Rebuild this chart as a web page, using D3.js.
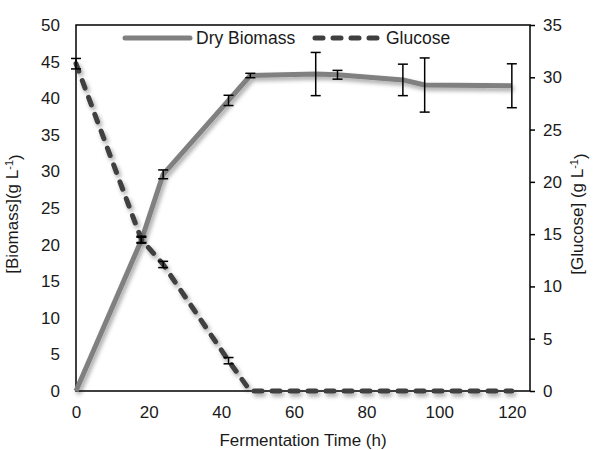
<!DOCTYPE html>
<html>
<head>
<meta charset="utf-8">
<script src="https://cdn.jsdelivr.net/npm/d3@7"></script>
<style>
  body { margin: 0; background: #fff; }
  text { font-family: "Liberation Sans", Arial, sans-serif; fill: #1a1a1a; }
</style>
</head>
<body>
<div id="chart"></div>
<script>
const time = [0, 18, 24, 42, 48, 66, 72, 90, 96, 120];
const biomass = [0, 20.6, 29.6, 39.7, 43.1, 43.3, 43.2, 42.5, 41.8, 41.7];
const biomassErr = [0, 0.4, 0.6, 0.7, 0.3, 2.95, 0.6, 2.15, 3.7, 3.0];
const glucose = [31.3, 14.5, 12.1, 2.9, 0, 0, 0, 0, 0, 0];
const glucoseErr = [0.5, 0.3, 0.3, 0.3, 0, 0, 0, 0, 0, 0];
const xTicks = [0, 20, 40, 60, 80, 100, 120];
const biomassTicks = [0, 5, 10, 15, 20, 25, 30, 35, 40, 45, 50];
const glucoseTicks = [0, 5, 10, 15, 20, 25, 30, 35];

const W = 593, H = 450;
const margin = { top: 25, right: 63, bottom: 59, left: 76 };
const width = W - margin.left - margin.right;
const height = H - margin.top - margin.bottom;

const root = d3.select("#chart").append("svg")
    .attr("width", W)
    .attr("height", H);

// excel style shadow under the lines
const filter = root.append("defs").append("filter")
    .attr("id", "shadow")
    .attr("x", "-10%").attr("y", "-10%")
    .attr("width", "130%").attr("height", "130%");
filter.append("feDropShadow")
    .attr("dx", 2).attr("dy", 3)
    .attr("stdDeviation", 2)
    .attr("flood-color", "#000")
    .attr("flood-opacity", 0.35);

const svg = root.append("g")
    .attr("transform", `translate(${margin.left},${margin.top})`);

const x = d3.scaleLinear().domain([0, 125]).range([0, width]);
const yB = d3.scaleLinear().domain([0, 50]).range([height, 0]);
const yG = d3.scaleLinear().domain([0, 35]).range([height, 0]);

const rows = time.map((t, i) => ({ t, b: biomass[i], be: biomassErr[i], g: glucose[i], ge: glucoseErr[i] }));

// plot frame
svg.append("rect")
    .attr("width", width)
    .attr("height", height)
    .attr("fill", "none")
    .attr("stroke", "#000")
    .attr("stroke-width", 1.5);

// axes
const fs = "17px";
const left = svg.append("g")
    .call(d3.axisLeft(yB).tickValues(biomassTicks).tickSize(0).tickPadding(16));
left.select(".domain").remove();
left.selectAll("text").style("font-size", fs).attr("fill", "#1a1a1a");

const right = svg.append("g")
    .attr("transform", `translate(${width},0)`)
    .call(d3.axisRight(yG).tickValues(glucoseTicks).tickSize(5).tickPadding(8));
right.select(".domain").remove();
right.selectAll("line").attr("stroke", "#000").attr("stroke-width", 1.5);
right.selectAll("text").style("font-size", fs).attr("fill", "#1a1a1a");

const bottom = svg.append("g")
    .attr("transform", `translate(0,${height})`)
    .call(d3.axisBottom(x).tickValues(xTicks).tickSize(0).tickPadding(15));
bottom.select(".domain").remove();
bottom.selectAll("text").style("font-size", fs).attr("fill", "#1a1a1a");

// lines
const lineB = d3.line().x(d => x(d.t)).y(d => yB(d.b));
const lineG = d3.line().x(d => x(d.t)).y(d => yG(d.g));

svg.append("path")
    .datum(rows)
    .attr("d", lineB)
    .attr("fill", "none")
    .attr("stroke", "#808080")
    .attr("stroke-width", 5)
    .attr("stroke-linejoin", "round")
    .attr("filter", "url(#shadow)");

svg.append("path")
    .datum(rows)
    .attr("d", lineG)
    .attr("fill", "none")
    .attr("stroke", "#3f3f3f")
    .attr("stroke-width", 5)
    .attr("stroke-linecap", "round")
    .attr("stroke-dasharray", "8,10")
    .attr("filter", "url(#shadow)");

// error bars
function errorBars(data, yScale, valueKey, errKey) {
    const g = svg.append("g").attr("stroke", "#000").attr("stroke-width", 1.5);
    const withErr = data.filter(d => d[errKey] > 0);
    g.selectAll(".v").data(withErr).join("line")
        .attr("x1", d => x(d.t)).attr("x2", d => x(d.t))
        .attr("y1", d => yScale(d[valueKey] - d[errKey]))
        .attr("y2", d => yScale(d[valueKey] + d[errKey]));
    [-1, 1].forEach(s => {
        g.selectAll(".c" + s).data(withErr).join("line")
            .attr("x1", d => x(d.t) - 5).attr("x2", d => x(d.t) + 5)
            .attr("y1", d => yScale(d[valueKey] + s * d[errKey]))
            .attr("y2", d => yScale(d[valueKey] + s * d[errKey]));
    });
}
errorBars(rows, yB, "b", "be");
errorBars(rows, yG, "g", "ge");

// legend
const legend = svg.append("g").attr("transform", "translate(0,13)");
legend.append("line")
    .attr("x1", 49).attr("x2", 114)
    .attr("stroke", "#808080").attr("stroke-width", 5).attr("stroke-linecap", "round");
legend.append("text")
    .attr("x", 120).attr("y", 0).attr("dy", "0.35em")
    .style("font-size", "17.5px")
    .text("Dry Biomass");
legend.append("line")
    .attr("x1", 239).attr("x2", 304)
    .attr("stroke", "#3f3f3f").attr("stroke-width", 5)
    .attr("stroke-linecap", "round").attr("stroke-dasharray", "8,10");
legend.append("text")
    .attr("x", 310).attr("y", 0).attr("dy", "0.35em")
    .style("font-size", "17.5px")
    .text("Glucose");

// axis titles
svg.append("text")
    .attr("x", width / 2).attr("y", height + 55)
    .style("text-anchor", "middle")
    .style("font-size", "17px")
    .text("Fermentation Time (h)");

const yl = svg.append("text")
    .attr("transform", `translate(${-58},${height / 2 + 6}) rotate(-90)`)
    .style("text-anchor", "middle")
    .style("font-size", "17px");
yl.append("tspan").text("[Biomass](g L");
yl.append("tspan").attr("dy", "-0.45em").style("font-size", "11px").text("-1");
yl.append("tspan").attr("dy", "0.45em").text(")");

const yr = svg.append("text")
    .attr("transform", `translate(${width + 53},${height / 2 + 6}) rotate(-90)`)
    .style("text-anchor", "middle")
    .style("font-size", "17px");
yr.append("tspan").text("[Glucose] (g L");
yr.append("tspan").attr("dy", "-0.45em").style("font-size", "11px").text("-1");
yr.append("tspan").attr("dy", "0.45em").text(")");
</script>
</body>
</html>
